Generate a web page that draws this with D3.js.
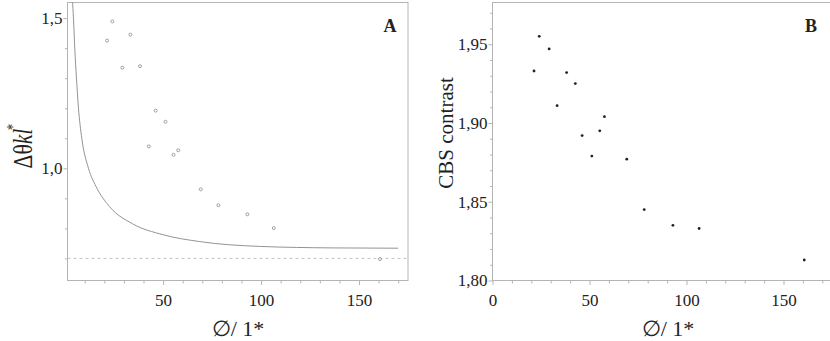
<!DOCTYPE html>
<html>
<head>
<meta charset="utf-8">
<script src="https://cdn.jsdelivr.net/npm/d3@7"></script>
<style>
  html, body { margin: 0; padding: 0; background: #fff; }
  svg { display: block; }
  text { font-family: "Liberation Serif", "Times New Roman", serif; fill: #222; }
</style>
</head>
<body>
<svg id="chart" width="830" height="341"></svg>
<script>
// ---------- data ----------
const diameters = [21.4, 24.1, 29.2, 33.3, 38.2, 42.7, 46.2, 51.2, 55.3, 57.7, 69.2, 78.2, 93.0, 106.5, 160.7];
const deltaTheta = [1.425, 1.489, 1.335, 1.445, 1.340, 1.073, 1.192, 1.155, 1.045, 1.060, 0.930, 0.877, 0.847, 0.801, 0.698];
const cbsContrast = [1.933, 1.955, 1.947, 1.911, 1.932, 1.925, 1.892, 1.879, 1.895, 1.904, 1.877, 1.845, 1.835, 1.833, 1.813];

// reference curve in panel A
const curveX = [3.7, 4.24, 4.9, 5.78, 6.8, 8.5, 11.9, 15.8, 22.6, 34.5, 49.9, 68.7, 99.3, 136.8, 170];
const curveY = [1.56, 1.5, 1.4, 1.3, 1.2, 1.1, 1.0, 0.939, 0.873, 0.815, 0.779, 0.756, 0.740, 0.735, 0.734];
const dashedLevel = 0.70;

// ticks
const aXMajor = [50, 100, 150];
const aXMinor = [10, 20, 30, 40, 60, 70, 80, 90, 110, 120, 130, 140, 160, 170];
const aYMajor = [1.0, 1.5];
const aYMajorLabels = ["1,0", "1,5"];
const aYMinor = [0.7, 0.8, 0.9, 1.1, 1.2, 1.3, 1.4];

const bXMajor = [0, 50, 100, 150];
const bXMinor = [10, 20, 30, 40, 60, 70, 80, 90, 110, 120, 130, 140, 160, 170, 180];
const bYMajor = [1.80, 1.85, 1.90, 1.95];
const bYMajorLabels = ["1,80", "1,85", "1,90", "1,95"];
const bYMinor = [1.81, 1.82, 1.83, 1.84, 1.86, 1.87, 1.88, 1.89, 1.91, 1.92, 1.93, 1.94, 1.96, 1.97];

const panelLabels = ["A", "B"];
const xTitle = "\u2205/ 1*";
const bYTitle = "CBS contrast";

// ---------- drawing ----------
const svg = d3.select("#chart");
const frameColor = "#b4b4b4";
const plotTop = 2.5, plotBottom = 280.5;

const xA = d3.scaleLinear().domain([1.2, 175]).range([67.5, 408]);
const yA = d3.scaleLinear().domain([0.6265, 1.552]).range([plotBottom, plotTop]);
const xB = d3.scaleLinear().domain([0, 180]).range([492.5, 841.7]);
const yB = d3.scaleLinear().domain([1.80, 1.9765]).range([plotBottom, plotTop]);

function styleAxis(g) {
  g.select(".domain").remove();
  g.selectAll(".tick line").attr("stroke", frameColor).attr("stroke-width", 1);
  g.selectAll("text").attr("font-size", 17).attr("fill", "#222")
    .attr("font-family", "Liberation Serif, serif");
}

function axes(xs, ys, xMaj, xMin, yMaj, yMajLab, yMin, xFmt) {
  svg.append("g").attr("transform", `translate(0,${plotBottom})`)
    .call(d3.axisBottom(xs).tickValues(xMin).tickSize(3).tickFormat(""))
    .call(styleAxis);
  svg.append("g").attr("transform", `translate(0,${plotBottom})`)
    .call(d3.axisBottom(xs).tickValues(xMaj).tickSize(4.5).tickPadding(9).tickFormat(xFmt))
    .call(styleAxis);
  svg.append("g").attr("transform", `translate(${xs.range()[0]},0)`)
    .call(d3.axisLeft(ys).tickValues(yMin).tickSize(2.5).tickFormat(""))
    .call(styleAxis);
  svg.append("g").attr("transform", `translate(${xs.range()[0]},0)`)
    .call(d3.axisLeft(ys).tickValues(yMaj).tickSize(4).tickPadding(1)
      .tickFormat((d, i) => yMajLab[i]))
    .call(styleAxis);
}

// clip paths
const defs = svg.append("defs");
defs.append("clipPath").attr("id", "clipA").append("rect")
  .attr("x", 67.5).attr("y", plotTop).attr("width", 408 - 67.5).attr("height", plotBottom - plotTop);

// Panel A frame
svg.append("rect").attr("x", 67.5).attr("y", plotTop).attr("width", 408 - 67.5).attr("height", plotBottom - plotTop)
  .attr("fill", "none").attr("stroke", frameColor).attr("stroke-width", 1);
axes(xA, yA, aXMajor, aXMinor, aYMajor, aYMajorLabels, aYMinor, d => String(d));

// dashed line
svg.append("line")
  .attr("x1", xA.range()[0]).attr("x2", xA.range()[1])
  .attr("y1", yA(dashedLevel)).attr("y2", yA(dashedLevel))
  .attr("stroke", "#c4c4c4").attr("stroke-width", 1).attr("stroke-dasharray", "3,3");

// curve
const curvePts = curveX.map((x, i) => [x, curveY[i]]);
svg.append("path").attr("clip-path", "url(#clipA)")
  .datum(curvePts)
  .attr("d", d3.line().x(d => xA(d[0])).y(d => yA(d[1])).curve(d3.curveMonotoneX))
  .attr("fill", "none").attr("stroke", "#939393").attr("stroke-width", 1);

// points A
svg.append("g").selectAll("circle").data(diameters).join("circle")
  .attr("cx", d => xA(d)).attr("cy", (d, i) => yA(deltaTheta[i]))
  .attr("r", 1.5).attr("fill", "#fff").attr("stroke", "#8a8a8a").attr("stroke-width", 0.8);

// Panel A label
svg.append("text").attr("x", 390).attr("y", 32).attr("text-anchor", "middle")
  .attr("font-size", 18).attr("font-weight", "bold").text(panelLabels[0]);

// Panel A y title
const ta = svg.append("text").attr("transform", "translate(32,168.5) rotate(-90) scale(0.8,1)")
  .attr("text-anchor", "start").attr("font-size", 27);
ta.append("tspan").text("\u0394\u03b8");
ta.append("tspan").attr("font-style", "italic").text("kl");
ta.append("tspan").attr("font-size", 16).attr("dx", -2).attr("dy", -14).text("*");

// x titles
svg.append("text").attr("x", 238).attr("y", 336).attr("text-anchor", "middle")
  .attr("font-size", 22).text(xTitle);

// Panel B frame
svg.append("rect").attr("x", 492.5).attr("y", plotTop).attr("width", 841.7 - 492.5).attr("height", plotBottom - plotTop)
  .attr("fill", "none").attr("stroke", frameColor).attr("stroke-width", 1);
axes(xB, yB, bXMajor, bXMinor, bYMajor, bYMajorLabels, bYMinor, d => String(d));

svg.append("g").selectAll("circle").data(diameters).join("circle")
  .attr("cx", d => xB(d)).attr("cy", (d, i) => yB(cbsContrast[i]))
  .attr("r", 1.4).attr("fill", "#222");

svg.append("text").attr("x", 811).attr("y", 32).attr("text-anchor", "middle")
  .attr("font-size", 18).attr("font-weight", "bold").text(panelLabels[1]);

svg.append("text").attr("transform", "translate(453,133) rotate(-90)")
  .attr("text-anchor", "middle").attr("font-size", 21).text(bYTitle);

svg.append("text").attr("x", 668).attr("y", 336).attr("text-anchor", "middle")
  .attr("font-size", 22).text(xTitle);
</script>
</body>
</html>
